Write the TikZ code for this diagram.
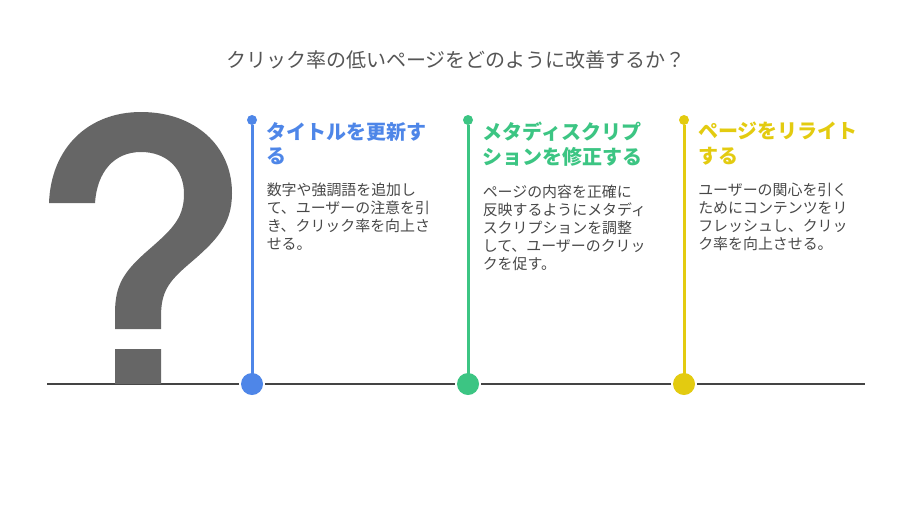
\documentclass[tikz,border=0pt]{standalone}
\usepackage{fontspec}
\newfontfamily\cjk{Noto Sans CJK JP}
\definecolor{stepblue}{HTML}{4E86E8}
\definecolor{stepgreen}{HTML}{3CC583}
\definecolor{stepyellow}{HTML}{E3CB10}
\definecolor{axisgray}{HTML}{444444}
\definecolor{bodygray}{HTML}{484848}
\definecolor{titlegray}{HTML}{555555}
\definecolor{markgray}{HTML}{666666}

\begin{document}
\begin{tikzpicture}[x=0.75pt,y=-0.75pt,
bigdot/.style={circle,fill=#1,minimum size=16.5pt,inner sep=0pt,outer sep=1.5pt},
topdot/.style={circle,fill=#1,minimum size=7.5pt,inner sep=0pt,outer sep=0pt},
head/.style={anchor=north west,inner sep=0pt,align=left,text=#1,font=\cjk\bfseries\fontsize{15}{18.4}\selectfont},
body/.style={anchor=north west,inner sep=0pt,align=left,text=bodygray,font=\cjk\fontsize{11.2}{13.5}\selectfont}]
\useasboundingbox (0,0) rectangle (912,504);
\node (title) [inner sep=0pt,text=titlegray,font=\cjk\fontsize{15}{18}\selectfont] at (456,60) {クリック率の低いページをどのように改善するか？};
% axis
\coordinate (axisl) at (47,384);
\coordinate (axisr) at (865,384);
\node (d1) [bigdot=stepblue]   at (252,384) {};
\node (d2) [bigdot=stepgreen]  at (468,384) {};
\node (d3) [bigdot=stepyellow] at (684,384) {};
\node (t1) [topdot=stepblue]   at (252,120) {};
\node (t2) [topdot=stepgreen]  at (468,120) {};
\node (t3) [topdot=stepyellow] at (684,120) {};
\path[draw=axisgray,line width=1.5pt]
(axisl) edge (d1)
(d1) edge (d2)
(d2) edge (d3)
(d3) edge (axisr)
;
\path[line width=2.25pt]
(t1) edge[stepblue] (d1.center)
(t2) edge[stepgreen] (d2.center)
(t3) edge[stepyellow] (d3.center)
;
% question mark
\fill[markgray] (49,203) .. controls (51,148) and (88,112) .. (141,112)
.. controls (195,112) and (232,146) .. (232,193)
.. controls (232,225) and (216,241) .. (189,264)
.. controls (168,282) and (161,292) .. (161,317)
-- (161,329) -- (115,329) -- (115,313)
.. controls (115,285) and (124,272) .. (145,253)
.. controls (170,231) and (184,220) .. (184,194)
.. controls (184,168) and (166,152) .. (141,152)
.. controls (114,152) and (97,172) .. (95,203) -- cycle
(115,349) rectangle (161,384);
% first step
\node (h1) [head=stepblue] at (266.5,122) {タイトルを更新す\\る};
\node (b1) [body] at (266.5,183) {数字や強調語を追加し\\て、ユーザーの注意を引\\き、クリック率を向上さ\\せる。};
% second step
\node (h2) [head=stepgreen] at (482.5,122) {メタディスクリプ\\ションを修正する};
\node (b2) [body] at (482.5,185) {ページの内容を正確に\\反映するようにメタディ\\スクリプションを調整\\して、ユーザーのクリッ\\クを促す。};
% third step
\node (h3) [head=stepyellow] at (698,122) {ページをリライト\\する};
\node (b3) [body] at (698,183) {ユーザーの関心を引く\\ためにコンテンツをリ\\フレッシュし、クリッ\\ク率を向上させる。};
\end{tikzpicture}
\end{document}
